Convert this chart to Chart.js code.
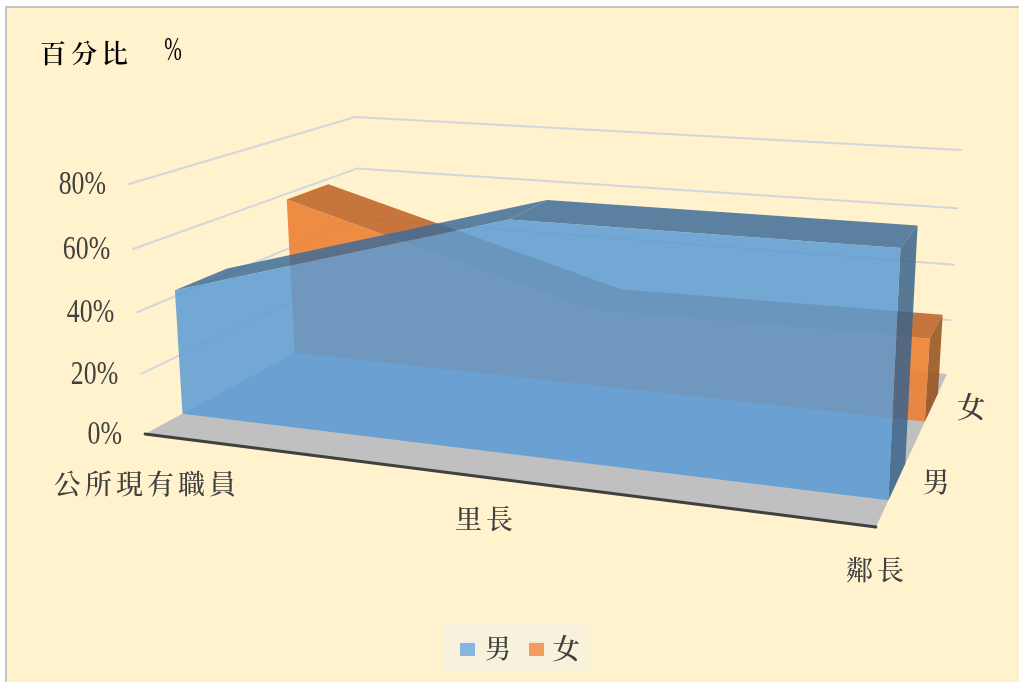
<!DOCTYPE html>
<html><head><meta charset="utf-8">
<style>
html,body{margin:0;padding:0;background:#fff;width:1019px;height:684px;overflow:hidden}
#frame{position:absolute;left:5px;top:6px;width:1014px;height:676px;background:#FFF2CC;border-left:2px solid #c4c4c4;border-top:2px solid #c4c4c4;box-sizing:border-box}
#wrap{position:absolute;left:0;top:0;width:1019px;height:684px}
canvas{display:block}
</style>
<script src="https://cdn.jsdelivr.net/npm/chart.js@4"></script>
</head><body>
<div id="frame"></div>
<div id="wrap"><canvas id="c" width="1019" height="684" style="width:1019px;height:684px"></canvas></div>
<script>
// ---- data ----
const categories = ['公所現有職員', '里長', '鄰長'];
const seriesNames = ['男', '女'];
const maleValues = [42, 73, 73];
const femaleValues = [58, 27, 28];
const tickValues = [0, 20, 40, 60, 80];
const tickLabels = ['0%', '20%', '40%', '60%', '80%'];
const titleText = '百分比';
const titleUnit = '%';

// ---- projection of the 3-D box (category u, depth v, value w) ----
function quad(p){
  const [[x0,y0],[x1,y1],[x2,y2],[x3,y3]] = p;
  const dx1=x1-x2,dx2=x3-x2,sx=x0-x1+x2-x3,dy1=y1-y2,dy2=y3-y2,sy=y0-y1+y2-y3;
  const den=dx1*dy2-dx2*dy1, g=(sx*dy2-dx2*sy)/den, h=(dx1*sy-sx*dy1)/den;
  const a=x1-x0+g*x1,b=x3-x0+h*x3,d=y1-y0+g*y1,e=y3-y0+h*y3;
  return (u,v)=>{const q=g*u+h*v+1;return [(a*u+b*v+x0)/q,(d*u+e*v+y0)/q];};
}
const floorMap = quad([[145,434],[876,527],[947,374],[364,315]]);
const topMap   = quad([[129,184],[889,238],[961,150],[355,117]]);
const axisMax = 80;
function P(u,v,w){
  const f=floorMap(u,v), t=topMap(u,v), r=w/axisMax, k=0.95*r/(1-0.05*r);
  return {x:f[0]+(t[0]-f[0])*k, y:f[1]+(t[1]-f[1])*k};
}
const catPos = categories.map((_,i)=>i/(categories.length-1));
const bands = {male:[0.14,0.35], female:[0.63,0.84]};

const polys=[];
function poly(points,fill,extra){polys.push(Object.assign({data:points,polyFill:fill,borderWidth:0,showLine:false,pointRadius:0},extra||{}));}
function line(points,color,w){polys.push({data:points,showLine:true,borderColor:color,borderWidth:w,pointRadius:0,tension:0,borderCapStyle:'round'});}

// floor and gridlines
poly([P(0,0,0),P(1,0,0),P(1,1,0),P(0,1,0)],'#c0c0c0');
tickValues.slice(1).forEach(t=>line([P(0,0,t),P(0,1,t),P(1,1,t)],'#d3d6dd',2));
line([P(0,0,0),P(1,0,0)],'#404040',2.8);

function band(vals,[v0,v1],face,topc,side){
  const n=vals.length-1;
  poly([P(1,v0,0),P(1,v1,0),P(1,v1,vals[n]),P(1,v0,vals[n])],side);
  for(let i=0;i<n;i++){
    poly([P(catPos[i],v0,vals[i]),P(catPos[i+1],v0,vals[i+1]),P(catPos[i+1],v1,vals[i+1]),P(catPos[i],v1,vals[i])],topc);
  }
  const pts=[P(0,v0,0)];
  vals.forEach((w,i)=>pts.push(P(catPos[i],v0,w)));
  pts.push(P(1,v0,0));
  poly(pts,face);
}
band(femaleValues,bands.female,'rgba(237,125,49,0.88)','rgba(190,100,40,0.88)','rgba(150,82,32,0.88)');
band(maleValues,bands.male,'rgba(91,155,213,0.85)','rgba(62,108,152,0.85)','rgba(58,100,140,0.85)');
polys.forEach((d,i)=>{d.order=-i;});

const SERIF='"Liberation Serif","DejaVu Serif",serif';
const CJK='"Noto Serif CJK TC","Noto Sans CJK TC",sans-serif';
function txt(ctx,s,x,y,font,color,align,sx,sp){
  ctx.save();ctx.font=font;ctx.fillStyle=color;ctx.textAlign=align||'center';ctx.textBaseline='middle';
  ctx.letterSpacing=(sp||0)+'px';ctx.translate(x,y);ctx.scale(sx||1,1);ctx.fillText(s,0,0);ctx.restore();
}
const polygonPlugin={id:'polygonPlugin',
  beforeDatasetDraw(chart,args){
    const ds=chart.data.datasets[args.index]; if(!ds.polyFill) return;
    const pts=args.meta.data, ctx=chart.ctx;
    ctx.save();ctx.beginPath();pts.forEach((p,i)=>i?ctx.lineTo(p.x,p.y):ctx.moveTo(p.x,p.y));
    ctx.closePath();ctx.fillStyle=ds.polyFill;ctx.fill();ctx.restore();
  },
  afterDraw(chart){
    const ctx=chart.ctx, gray='#404040';
    txt(ctx,titleText,40,53,'600 26px '+CJK,'#000','left',1,5);
    txt(ctx,titleUnit,173,51,'34px '+SERIF,'#000','center',0.62);
    tickValues.forEach((t,i)=>{
      const p=P(0,0,t);
      txt(ctx,tickLabels[i],p.x-23,p.y+1,'34px '+SERIF,gray,'right',0.76);
    });
    const catXY=[[145,484],[484,519],[875,570]];
    categories.forEach((c,i)=>txt(ctx,c,catXY[i][0]+2,catXY[i][1],'500 27px '+CJK,gray,'center',1,4));
    txt(ctx,seriesNames[0],936,482,'500 27px '+CJK,gray,'center');
    txt(ctx,seriesNames[1],971,407,'500 29px '+CJK,gray,'center');
    ctx.fillStyle='#F8F2DD';ctx.fillRect(443,624,146,48);
    [[460,'#87B5E0','#E8EEF2',485],[529,'#F19B60','#FBE6D6',552]].forEach((l,i)=>{
      ctx.fillStyle=l[1];ctx.fillRect(l[0],641,15,15);
      ctx.fillStyle=l[2];ctx.fillRect(l[0],641,15,2);
      txt(ctx,seriesNames[i],l[3],648,'500 '+(i?28:26)+'px '+CJK,gray,'left');
    });
  }
};
new Chart(document.getElementById('c'),{
  type:'scatter',
  data:{datasets:polys},
  options:{
    responsive:false,animation:false,devicePixelRatio:1,
    layout:{padding:0},
    plugins:{legend:{display:false},title:{display:false},tooltip:{enabled:false}},
    scales:{
      x:{type:'linear',min:0,max:1019,display:false},
      y:{type:'linear',min:0,max:684,reverse:true,display:false}
    }
  },
  plugins:[polygonPlugin]
});
</script>
</body></html>
